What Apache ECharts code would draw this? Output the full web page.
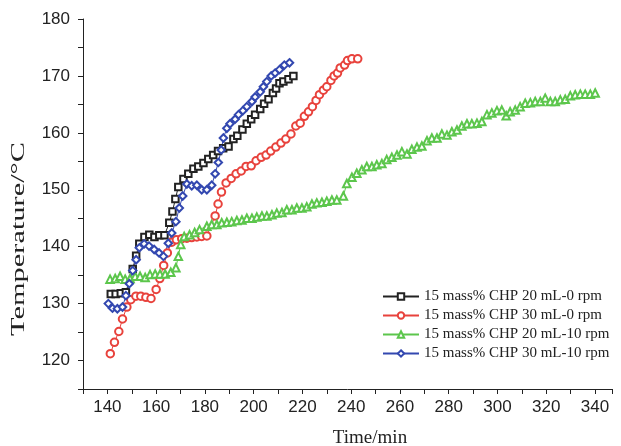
<!DOCTYPE html>
<html>
<head>
<meta charset="utf-8">
<script src="https://cdn.jsdelivr.net/npm/echarts@6/dist/echarts.min.js"></script>
<style>
  html, body { margin: 0; padding: 0; background: #fff; }
  #main { width: 621px; height: 446px; }
</style>
</head>
<body>
<div id="main"></div>
<script>
// series names as in the legend
const seriesNames = [
  '15 mass% CHP 20 mL-0 rpm',
  '15 mass% CHP 30 mL-0 rpm',
  '15 mass% CHP 20 mL-10 rpm',
  '15 mass% CHP 30 mL-10 rpm'
];

// 20 mL - 0 rpm (black squares)
const black_t = [141.4, 143.4, 145.5, 147.6, 150.4, 151.8, 153.1, 155.2, 157.2, 159.3, 161.3, 163.4, 165.4, 166.7, 167.9, 169.1,
  171.2, 173.2, 175.3, 177.3, 179.4, 181.4, 183.4, 185.4, 187.5, 189.7, 191.7, 193.3, 195.4, 197.2, 199.0, 200.6, 202.7, 204.3,
  206.1, 207.9, 209.2, 210.6, 212.2, 214.3, 216.3];
const black_T = [131.7, 131.7, 131.8, 132.0, 136.1, 138.4, 140.5, 141.7, 142.1, 141.7, 142.0, 142.0, 144.2, 146.2, 148.4, 150.5,
  151.9, 152.8, 153.7, 154.1, 154.7, 155.4, 156.1, 156.8, 157.3, 157.6, 158.9, 159.5, 160.6, 161.6, 162.4, 163.2, 164.2, 165.1,
  165.9, 167.0, 167.8, 168.7, 169.0, 169.4, 170.0];

// 30 mL - 0 rpm (red circles)
const red_t = [141.2, 142.9, 144.7, 146.2, 148.0, 149.6, 151.7, 153.7, 155.8, 157.9, 160.0, 161.5, 163.1, 164.6, 166.4, 168.3,
  170.5, 172.6, 174.6, 176.7, 178.7, 180.8, 184.2, 185.4, 186.8, 188.7, 190.8, 192.8, 194.9, 196.9, 199.0, 201.0, 203.1, 205.1,
  207.0, 209.1, 211.2, 213.2, 215.3, 217.3, 219.1, 220.8, 222.5, 224.1, 225.6, 227.0, 228.6, 230.0, 231.7, 233.0, 234.4, 235.5,
  237.3, 238.5, 240.3, 242.7];
const red_T = [121.2, 123.2, 125.1, 127.3, 129.4, 130.7, 131.3, 131.3, 131.1, 130.9, 132.5, 134.4, 136.7, 138.9, 140.8, 141.2,
  141.4, 141.5, 141.6, 141.7, 141.8, 141.9, 145.4, 147.5, 149.6, 151.2, 152.0, 152.8, 153.3, 154.1, 154.2, 155.1, 155.7, 156.1,
  156.8, 157.5, 158.2, 158.9, 159.8, 161.2, 161.7, 162.9, 163.7, 164.6, 165.7, 166.7, 167.5, 168.1, 169.2, 170.0, 170.5, 171.4,
  171.9, 172.7, 173.0, 173.0];

// 20 mL - 10 rpm (green triangles)
const green_t = [141.1, 143.2, 145.2, 147.3, 149.3, 151.4, 153.4, 155.5, 157.5, 159.6, 161.6, 163.7, 166.0, 168.1, 169.1, 170.1,
  171.5, 173.7, 175.8, 177.8, 180.8, 182.8, 184.9, 186.9, 189.0, 191.0, 193.1, 195.2, 197.2, 199.3, 201.3, 203.4, 205.4,
  207.5, 209.5, 211.6, 213.6, 215.7, 217.7, 219.8, 221.8, 223.9, 225.9, 228.0, 230.0, 232.1, 234.1, 236.8, 238.2, 240.3,
  242.3, 244.4, 246.4, 248.5, 250.5, 252.6, 254.6, 256.7, 258.8, 260.8, 262.9, 264.9, 267.0, 269.0, 271.1, 273.1, 275.2,
  277.2, 279.3, 281.3, 283.4, 285.4, 287.5, 289.5, 291.6, 293.6, 295.7, 297.7, 299.8, 301.8, 303.6, 305.2, 307.3, 309.3,
  311.4, 313.5, 315.5, 317.6, 319.6, 321.7, 323.7, 325.8, 327.8, 329.9, 331.9, 334.0, 336.0, 338.1, 340.1];
const green_T = [134.3, 134.4, 134.8, 134.3, 134.4, 134.8, 134.8, 134.6, 135.1, 135.2, 135.2, 135.2, 135.5, 136.3, 138.3, 140.4,
  141.8, 142.1, 142.5, 143.0, 143.6, 143.9, 143.9, 144.2, 144.3, 144.4, 144.6, 144.7, 145.0, 145.0, 145.2, 145.4, 145.4,
  145.6, 145.9, 146.0, 146.5, 146.5, 146.8, 146.8, 147.0, 147.5, 147.7, 147.8, 148.0, 148.2, 148.2, 148.9, 151.1, 152.2,
  152.9, 153.5, 154.1, 154.1, 154.4, 154.6, 155.3, 155.7, 156.1, 156.7, 156.3, 157.1, 157.5, 157.7, 158.6, 159.1, 159.1,
  159.8, 159.6, 160.2, 160.5, 161.2, 161.6, 161.6, 161.7, 162.0, 163.2, 163.5, 163.9, 164.0, 163.0, 163.7, 164.0, 164.6,
  165.2, 165.3, 165.5, 165.5, 166.1, 165.5, 165.5, 165.8, 165.9, 166.5, 166.7, 166.8, 166.8, 166.8, 167.0];

// 30 mL - 10 rpm (blue diamonds)
const blue_t = [140.4, 142.1, 144.1, 146.2, 147.6, 149.0, 150.4, 151.8, 153.1, 155.1, 157.1, 159.2, 161.2, 163.0, 165.0, 166.4,
  168.1, 169.5, 170.9, 172.6, 174.6, 176.7, 178.7, 180.8, 182.8, 184.2, 185.5, 186.7, 187.6, 189.0, 190.3, 192.4, 193.8,
  195.6, 197.2, 199.3, 200.6, 202.7, 204.0, 205.4, 207.2, 208.8, 210.6, 212.6, 214.7];
const blue_T = [130.0, 129.2, 129.1, 129.4, 131.4, 133.5, 135.8, 137.7, 139.8, 140.5, 140.1, 139.5, 138.9, 138.3, 140.6, 142.4,
  144.4, 146.8, 148.9, 151.0, 150.7, 150.8, 150.0, 150.0, 150.8, 152.8, 154.8, 157.0, 159.1, 160.8, 161.6, 162.4, 163.2,
  163.9, 164.6, 165.5, 166.3, 167.2, 168.1, 169.0, 170.0, 170.5, 171.1, 171.9, 172.3];

const colors = ['#222222', '#e8423c', '#5cc64c', '#3348b0'];
const symbols = ['emptyRect', 'emptyCircle', 'emptyTriangle', 'emptyDiamond'];

const pair = (t, T) => t.map((v, i) => [v, T[i]]);
const allData = [pair(black_t, black_T), pair(red_t, red_T), pair(green_t, green_T), pair(blue_t, blue_T)];

const myChart = echarts.init(document.getElementById('main'));

const option = {
  animation: false,
  backgroundColor: '#fff',
  grid: { left: 83, top: 19, right: 9, bottom: 57 },
  legend: {
    orient: 'vertical',
    left: 377,
    top: 284,
    itemWidth: 36,
    itemHeight: 8,
    itemGap: 4,
    textStyle: { fontFamily: 'Liberation Serif', fontSize: 15, color: '#222', lineHeight: 15 },
    data: seriesNames
  },
  xAxis: {
    type: 'value',
    min: 130,
    max: 347,
    interval: 10,
    splitLine: { show: false },
    axisLine: { lineStyle: { color: '#222', width: 1 } },
    axisTick: { length: 5, lineStyle: { color: '#222' } },
    axisLabel: {
      margin: 10,
      fontFamily: 'Liberation Sans',
      fontSize: 17,
      color: '#222',
      formatter: v => (v % 20 === 0 ? String(v) : '')
    }
  },
  yAxis: {
    type: 'value',
    min: 115,
    max: 180,
    interval: 5,
    splitLine: { show: false },
    axisLine: { show: true, lineStyle: { color: '#222', width: 1 } },
    axisTick: { show: true, length: 5, lineStyle: { color: '#222' } },
    axisLabel: {
      margin: 13,
      fontFamily: 'Liberation Sans',
      fontSize: 17,
      color: '#222',
      formatter: v => (v % 10 === 0 ? String(v) : '')
    }
  },
  graphic: [
    {
      type: 'text',
      x: 370, y: 438,
      style: { text: 'Time/min', font: '19px "Liberation Serif"', fill: '#222', align: 'center', verticalAlign: 'middle' }
    },
    {
      // the reference title is drawn stretched along its length
      type: 'text',
      x: 19, y: 239,
      rotation: Math.PI / 2,
      scaleX: 1.6,
      style: { text: 'Temperature/°C', font: '19px "Liberation Serif"', fill: '#222', align: 'center', verticalAlign: 'middle' }
    }
  ],
  series: seriesNames.map((name, i) => ({
    name: name,
    type: 'line',
    data: allData[i],
    symbol: symbols[i],
    symbolSize: i === 0 ? 6.5 : 7.5,
    showAllSymbol: true,
    color: colors[i],
    lineStyle: { color: colors[i], width: 1 },
    itemStyle: { color: colors[i], borderWidth: 1 }
  }))
};

myChart.setOption(option);
</script>
</body>
</html>
